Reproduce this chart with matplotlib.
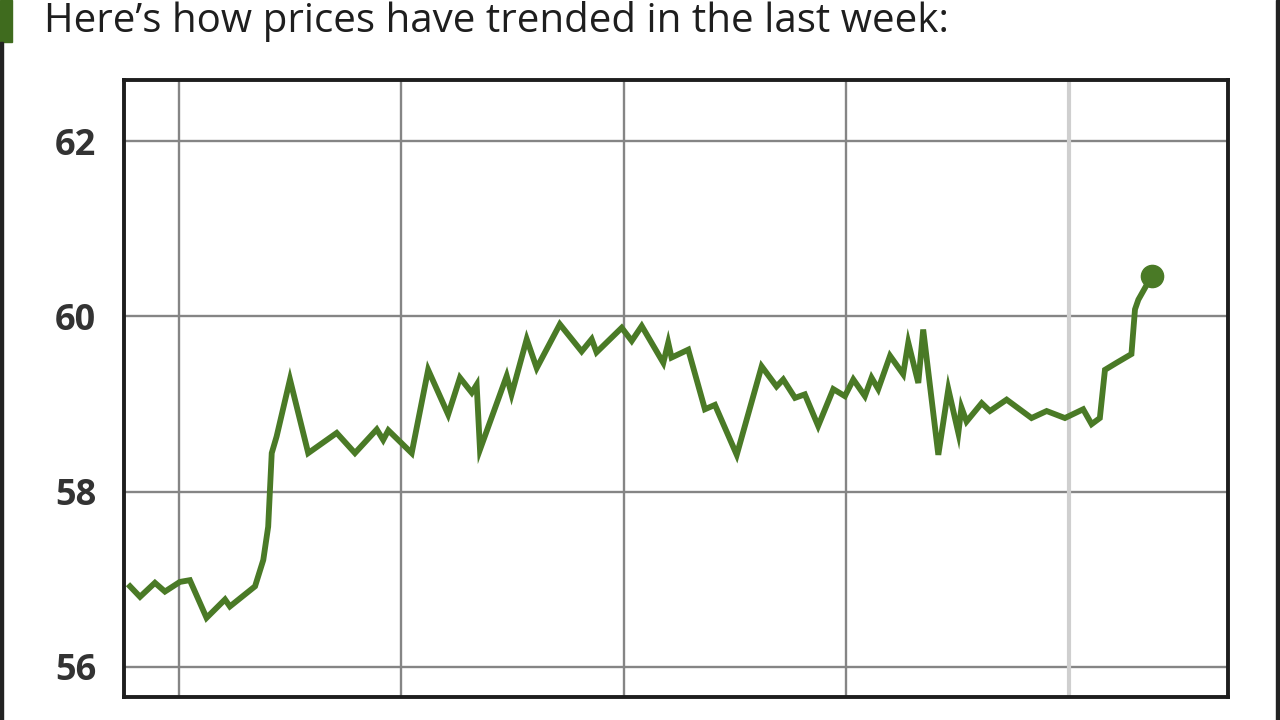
import matplotlib.pyplot as plt
from matplotlib.patches import Rectangle

# price trend over the last week (x in days, gridlines at day boundaries)
days = [0.780, 0.825, 0.892, 0.937, 1.004, 1.049, 1.124, 1.207, 1.229, 1.342,
        1.379, 1.401, 1.417, 1.439, 1.499, 1.581, 1.709, 1.791, 1.889, 1.918,
        1.941, 2.046, 2.120, 2.210, 2.263, 2.316, 2.338, 2.353, 2.473, 2.495,
        2.563, 2.608, 2.712, 2.810, 2.855, 2.877, 2.990, 3.035, 3.080, 3.177,
        3.199, 3.214, 3.289, 3.364, 3.409, 3.507, 3.619, 3.686, 3.716, 3.769,
        3.813, 3.873, 3.941, 3.993, 4.031, 4.083, 4.113, 4.143, 4.196, 4.255,
        4.278, 4.323, 4.345, 4.413, 4.458, 4.503, 4.517, 4.540, 4.608, 4.645,
        4.720, 4.832, 4.900, 4.982, 5.064, 5.102, 5.139, 5.162, 5.214, 5.281,
        5.297, 5.312, 5.372]
prices = [56.92, 56.80, 56.96, 56.86, 56.97, 56.99, 56.56, 56.77, 56.69, 56.92,
          57.22, 57.60, 58.44, 58.63, 59.28, 58.44, 58.67, 58.44, 58.71, 58.59,
          58.70, 58.44, 59.39, 58.88, 59.30, 59.13, 59.22, 58.48, 59.32, 59.11,
          59.74, 59.41, 59.91, 59.60, 59.74, 59.59, 59.87, 59.72, 59.89, 59.47,
          59.70, 59.53, 59.62, 58.94, 58.99, 58.42, 59.43, 59.20, 59.28, 59.07,
          59.11, 58.75, 59.17, 59.09, 59.28, 59.09, 59.30, 59.17, 59.55, 59.34,
          59.70, 59.24, 59.85, 58.42, 59.17, 58.67, 58.96, 58.80, 59.01, 58.92,
          59.05, 58.84, 58.92, 58.84, 58.94, 58.77, 58.84, 59.39, 59.47, 59.57,
          60.08, 60.19, 60.46]

y_ticks = [56, 58, 60, 62]
day_lines = [1, 2, 3, 4, 5]
title = "Here\u2019s how prices have trended in the last week:"

green = "#4a7a26"

fig = plt.figure(figsize=(12.8, 7.2), dpi=100)

# card decorations: green tab and side borders
fig.patches.append(Rectangle((0, 1 - 42 / 720), 12 / 1280, 42 / 720,
                             transform=fig.transFigure, color="#3f6b1e", zorder=5))
fig.patches.append(Rectangle((0, 0), 3 / 1280, 1 - 42 / 720,
                             transform=fig.transFigure, color="#222222", zorder=5))
fig.patches.append(Rectangle((1 - 4 / 1280, 0), 4 / 1280, 1,
                             transform=fig.transFigure, color="#222222", zorder=5))

fig.text(44 / 1280, 1 - 21 / 720, title, fontsize=29, family="Open Sans",
         fontweight="medium", color="#1e1e1e", va="center", ha="left")

ax = fig.add_axes([124 / 1280, 1 - 697 / 720, 1104 / 1280, 617 / 720])

for y in y_ticks:
    ax.axhline(y, color="#858585", lw=1.7, zorder=1)
for d in day_lines[:-1]:
    ax.axvline(d, color="#858585", lw=1.7, zorder=1)
ax.axvline(day_lines[-1], color="#cfcfcf", lw=3, zorder=1)

ax.plot(days, prices, color=green, lw=4.2, solid_joinstyle="miter", zorder=3)
ax.plot(days[-1], prices[-1], "o", color=green, ms=16, zorder=4)

ax.set_xlim(0.753, 5.715)
ax.set_ylim(55.657, 62.697)
ax.set_xticks([])
ax.set_yticks(y_ticks)
ax.set_yticklabels([str(v) for v in y_ticks], fontsize=26, family="Open Sans",
                   fontweight="bold", color="#333333")
ax.tick_params(axis="y", length=0, pad=20)

for s in ax.spines.values():
    s.set_color("#1e1e1e")
    s.set_linewidth(2.8)

fig.savefig("out.png", dpi=100)
